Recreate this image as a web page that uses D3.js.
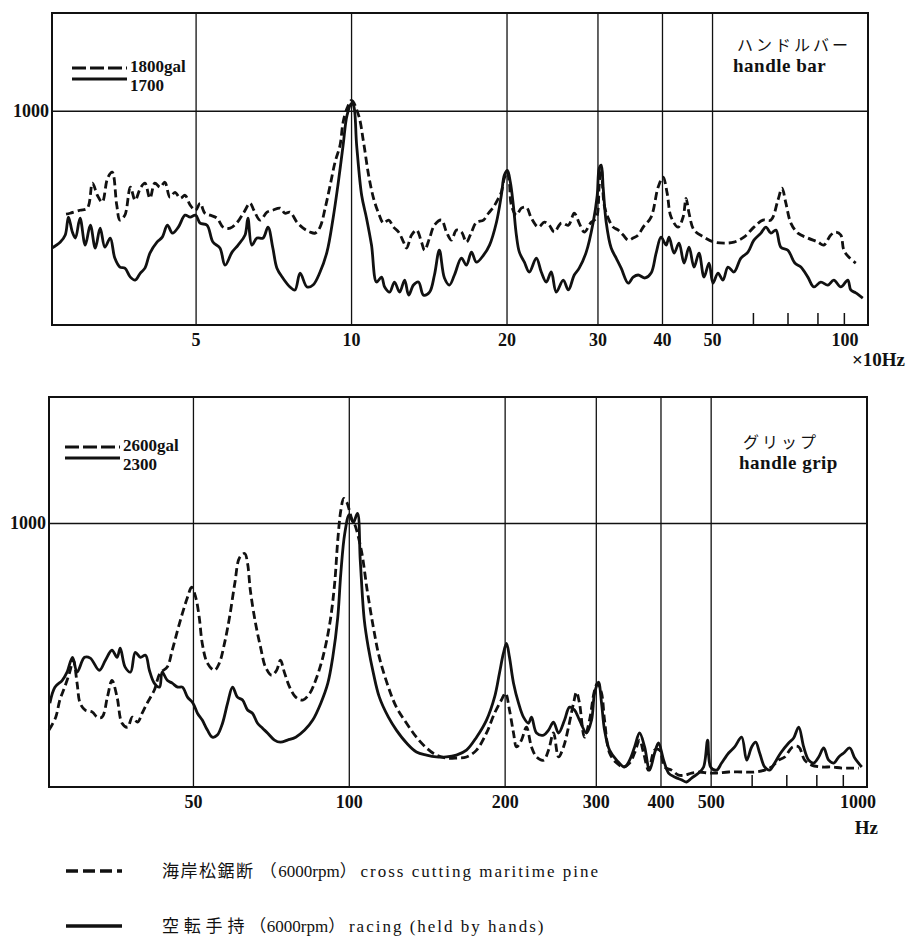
<!DOCTYPE html>
<html>
<head>
<meta charset="utf-8">
<script src="https://cdn.jsdelivr.net/npm/d3@7"></script>
<style>
  body { margin: 0; background: #fff; }
  .num { font-family: "Liberation Serif", "DejaVu Serif", serif; font-weight: bold; font-size: 18px; fill: #111; }
  .jp { font-family: "Noto Sans CJK JP", sans-serif; font-size: 16px; fill: #111; }
</style>
</head>
<body>
<div id="chart"></div>
<script>
// handle bar: frequency in x10 Hz, acceleration in gal
const barCutting = [[2.80,519],[2.85,523],[2.98,537],[3.08,547],[3.15,664],[3.22,607],[3.29,575],[3.37,687],[3.44,715],[3.51,561],[3.56,491],[3.64,514],[3.73,645],[3.81,584],[3.90,640],[3.98,664],[4.07,593],[4.16,664],[4.26,645],[4.35,668],[4.45,598],[4.55,621],[4.66,593],[4.76,607],[4.87,561],[4.99,537],[5.09,570],[5.20,523],[5.32,514],[5.49,500],[5.64,458],[5.82,453],[6.01,481],[6.19,528],[6.36,570],[6.47,537],[6.65,491],[6.86,528],[7.04,537],[7.27,547],[7.43,523],[7.60,528],[7.84,481],[8.06,453],[8.31,435],[8.50,430],[8.69,458],[8.89,547],[9.09,654],[9.29,762],[9.50,841],[9.63,949],[9.80,1014],[10.0,1051],[10.32,981],[10.55,855],[10.79,701],[11.03,593],[11.28,523],[11.53,477],[11.80,491],[12.06,458],[12.33,435],[12.61,388],[12.78,360],[13.07,421],[13.36,444],[13.66,388],[13.85,350],[14.16,407],[14.47,467],[14.93,491],[15.27,435],[15.61,397],[15.96,444],[16.32,435],[16.69,388],[17.07,435],[17.45,481],[18.01,491],[18.41,523],[18.82,551],[19.25,593],[19.50,621],[19.76,687],[20.03,715],[20.21,668],[20.39,561],[20.85,514],[21.32,547],[21.80,551],[22.29,500],[23.00,458],[23.62,481],[24.14,467],[24.69,435],[25.47,477],[26.29,467],[26.99,523],[27.59,477],[28.22,435],[29.11,481],[29.77,500],[30.17,654],[30.44,734],[30.85,561],[31.40,500],[32.11,458],[32.84,444],[33.57,421],[34.33,397],[35.10,407],[35.89,421],[36.70,458],[38.02,505],[39.23,645],[40.10,692],[40.84,617],[41.56,505],[42.89,458],[43.85,505],[44.43,593],[45.03,523],[46.04,444],[48.14,411],[50.33,388],[52.62,383],[55.01,388],[57.51,411],[60.13,458],[62.60,491],[64.86,491],[66.92,584],[68.15,640],[69.34,570],[70.90,477],[73.15,430],[76.48,407],[79.97,388],[82.11,374],[84.72,421],[86.63,435],[88.58,421],[89.78,350],[91.79,318],[94.70,290]];

const barRacing = [[2.63,360],[2.73,388],[2.79,421],[2.83,505],[2.88,435],[2.92,407],[2.98,500],[3.05,374],[3.12,467],[3.19,360],[3.26,453],[3.33,364],[3.41,407],[3.48,313],[3.56,271],[3.64,266],[3.73,224],[3.81,210],[3.90,243],[3.98,266],[4.07,336],[4.20,388],[4.30,411],[4.40,467],[4.50,430],[4.62,458],[4.76,514],[4.87,505],[4.99,514],[5.09,477],[5.25,467],[5.39,388],[5.56,360],[5.69,280],[5.87,341],[6.03,374],[6.22,421],[6.30,500],[6.41,374],[6.56,407],[6.74,407],[6.89,458],[7.04,360],[7.17,266],[7.36,220],[7.60,178],[7.77,164],[7.95,243],[8.20,178],[8.42,187],[8.69,248],[8.96,341],[9.21,500],[9.41,654],[9.63,841],[9.80,981],[10.0,1037],[10.09,1028],[10.23,841],[10.46,607],[10.69,500],[10.93,374],[11.18,201],[11.43,224],[11.59,178],[11.85,154],[12.11,201],[12.39,154],[12.67,210],[12.90,140],[13.18,187],[13.48,201],[13.78,140],[14.16,154],[14.47,234],[14.79,350],[15.13,220],[15.47,187],[15.82,234],[16.32,313],[16.69,280],[17.07,341],[17.45,294],[18.01,327],[18.50,374],[19.08,481],[19.50,607],[19.76,701],[20.03,724],[20.30,668],[20.57,561],[20.85,421],[21.13,341],[21.61,294],[22.09,248],[22.79,313],[23.30,248],[23.83,201],[24.36,248],[24.91,154],[25.70,210],[26.29,164],[26.99,234],[27.59,266],[28.47,341],[29.37,481],[29.90,607],[30.17,734],[30.44,748],[30.71,640],[31.12,481],[31.82,360],[32.54,313],[33.27,266],[34.33,196],[35.10,224],[35.89,234],[37.02,220],[38.02,243],[38.88,336],[39.75,411],[40.65,374],[41.19,411],[42.12,336],[43.06,383],[44.04,290],[45.03,364],[46.04,271],[47.07,336],[48.14,224],[49.22,290],[50.10,196],[51.23,243],[52.38,210],[53.56,271],[55.01,248],[56.75,313],[58.55,341],[60.13,397],[62.04,430],[63.43,458],[64.86,430],[66.32,444],[67.81,364],[69.96,350],[72.17,290],[74.13,271],[76.48,224],[78.55,178],[81.03,201],[83.60,187],[85.86,210],[88.58,178],[91.39,210],[92.61,164],[94.70,150],[97.70,126]];

// handle grip: frequency in Hz, acceleration in gal
const gripCutting = [[26.3,216],[27.1,265],[27.6,330],[28.2,379],[28.8,432],[29.3,481],[29.8,394],[30.2,318],[30.9,292],[31.9,284],[32.6,265],[33.3,265],[34.1,341],[34.8,405],[35.6,341],[36.4,242],[37.3,227],[38.1,265],[39.0,246],[39.8,280],[40.7,318],[42.0,367],[43.1,432],[44.5,455],[45.5,519],[46.6,595],[47.6,659],[48.7,720],[49.6,758],[50.5,720],[51.3,644],[52.0,545],[53.2,470],[54.9,443],[56.1,470],[57.4,545],[58.7,644],[60.1,773],[61.4,871],[62.8,886],[63.6,849],[64.4,746],[65.9,621],[67.4,530],[68.9,455],[70.8,424],[72.4,443],[73.6,481],[75.0,432],[76.7,379],[78.8,341],[81.3,330],[83.9,356],[86.1,405],[88.9,492],[91.7,621],[93.7,773],[95.0,936],[96.3,1049],[97.6,1095],[98.9,1080],[101.4,1011],[102.3,1000],[105.5,898],[108.3,746],[111.3,606],[114.3,492],[119.0,379],[123.3,303],[129.0,242],[134.8,189],[141.0,148],[147.3,121],[154.0,110],[161.0,110],[168.4,114],[176.1,140],[184.1,205],[190.8,280],[196.7,330],[200.3,356],[203.9,292],[207.6,205],[210.4,152],[215.1,178],[219.9,227],[224.9,152],[230.0,114],[237.3,102],[242.6,140],[248.0,205],[253.6,114],[259.3,152],[265.1,227],[271.1,318],[274.7,360],[278.4,318],[284.7,189],[291.1,254],[297.7,367],[301.7,394],[307.1,356],[311.2,254],[318.2,129],[328.4,91],[338.7,76],[347.9,91],[355.7,129],[363.7,178],[370.2,129],[378.6,64],[388.8,140],[397.5,140],[406.5,76],[419.3,64],[432.6,45],[444.3,45],[458.4,53],[475.0,57],[494.4,53],[512.3,53],[540.4,57],[572.6,57],[606.7,57],[634.3,64],[654.4,76],[675.1,102],[693.4,114],[718.5,152],[738.0,152],[758.0,102],[781.4,83],[817.7,76],[854.8,76],[893.7,72],[934.4,72],[964.0,72]];

const gripRacing = [[26.4,318],[27.0,379],[27.9,405],[28.5,436],[29.2,492],[29.8,436],[30.8,492],[31.6,489],[32.9,443],[33.8,481],[34.8,519],[35.6,492],[36.1,527],[36.9,455],[37.8,436],[38.6,511],[39.5,492],[40.4,500],[41.1,443],[42.0,394],[43.0,379],[43.5,436],[44.5,405],[45.5,394],[46.6,379],[47.6,379],[48.7,341],[49.9,318],[50.9,280],[52.0,254],[53.2,216],[54.4,189],[55.6,197],[56.9,242],[58.2,318],[59.5,379],[60.8,341],[62.2,330],[63.6,292],[65.0,280],[66.5,242],[68.0,223],[69.5,205],[71.7,178],[73.6,170],[76.0,178],[78.8,189],[82.0,216],[85.0,254],[88.1,318],[90.9,394],[92.9,492],[95.0,644],[96.3,811],[98.0,962],[100.0,1034],[101.8,1004],[103.7,1038],[105.0,860],[106.9,633],[108.8,530],[111.3,432],[114.3,341],[119.0,265],[123.3,216],[129.0,167],[134.8,133],[141.0,121],[147.3,114],[154.0,114],[161.0,121],[168.4,140],[176.1,189],[184.1,254],[190.8,341],[195.0,432],[198.5,508],[201.2,545],[203.9,492],[207.6,394],[212.3,318],[217.0,265],[221.9,242],[224.9,265],[230.0,205],[237.3,197],[242.6,216],[248.0,246],[253.6,205],[260.5,254],[266.3,303],[272.3,292],[278.4,254],[287.2,205],[293.7,254],[297.7,356],[303.0,398],[307.1,318],[311.2,216],[318.2,140],[328.4,102],[340.2,76],[347.9,102],[355.7,152],[363.7,205],[371.9,152],[380.2,64],[388.8,129],[395.7,167],[404.7,102],[413.7,53],[425.0,38],[438.5,27],[448.3,19],[458.4,34],[472.9,53],[483.5,76],[492.2,178],[498.8,76],[512.3,64],[523.8,91],[540.4,129],[555.1,152],[572.6,189],[585.5,102],[598.7,152],[609.4,170],[620.4,129],[634.3,76],[648.6,64],[663.2,91],[681.1,129],[705.8,167],[721.7,186],[738.0,227],[754.6,152],[771.5,102],[788.9,91],[806.7,114],[824.9,148],[843.4,102],[862.4,91],[881.8,114],[901.7,129],[926.1,148],[947.0,110],[977.0,76]];

const barGrid = [5, 10, 20, 30, 40, 50];
const barMinor = [60, 70, 80, 90];
const barLabels = [5, 10, 20, 30, 40, 50, 100];
const gripGrid = [50, 100, 200, 300, 400, 500];
const gripMinor = [600, 700, 800, 900];
const gripLabels = [50, 100, 200, 300, 400, 500, 1000];

const svg = d3.select("#chart").append("svg")
  .attr("width", 906).attr("height", 949)
  .attr("viewBox", [0, 0, 906, 949]);

function drawPanel(p) {
  const x = d3.scaleLog().domain(p.xDomain).range([p.left, p.right]);
  const y = d3.scaleLinear().domain([0, p.yMax]).range([p.bottom, p.top]);
  const g = svg.append("g");

  // grid lines
  g.selectAll(".vgrid").data(p.grid).enter().append("line")
    .attr("x1", d => x(d)).attr("x2", d => x(d))
    .attr("y1", p.top).attr("y2", p.bottom)
    .attr("stroke", "#111").attr("stroke-width", 1.3);
  g.append("line")
    .attr("x1", p.left).attr("x2", p.right)
    .attr("y1", y(1000)).attr("y2", y(1000))
    .attr("stroke", "#111").attr("stroke-width", 1.6);
  g.selectAll(".minor").data(p.minor).enter().append("line")
    .attr("x1", d => x(d)).attr("x2", d => x(d))
    .attr("y1", p.bottom).attr("y2", p.bottom - 12)
    .attr("stroke", "#111").attr("stroke-width", 1.5);

  // frame
  g.append("rect")
    .attr("x", p.left).attr("y", p.top)
    .attr("width", p.right - p.left).attr("height", p.bottom - p.top)
    .attr("fill", "none").attr("stroke", "#111").attr("stroke-width", 2);

  const line = d3.line()
    .x(d => x(d[0])).y(d => y(d[1]))
    .curve(d3.curveCatmullRom.alpha(0.5));

  g.append("path").datum(p.racing)
    .attr("d", line).attr("fill", "none")
    .attr("stroke", "#111").attr("stroke-width", 2.8)
    .attr("stroke-linejoin", "round");
  g.append("path").datum(p.cutting)
    .attr("d", line).attr("fill", "none")
    .attr("stroke", "#111").attr("stroke-width", 2.8)
    .attr("stroke-dasharray", "8,4");

  // tick labels
  g.selectAll(".tl").data(p.labels).enter().append("text")
    .attr("class", "num")
    .attr("x", d => x(d) + (d === p.labels[p.labels.length - 1] ? p.lastShift : 0))
    .attr("y", p.bottom + 21)
    .attr("text-anchor", "middle")
    .text(d => d);
  g.append("text").attr("class", "num")
    .attr("x", p.left - 3).attr("y", y(1000) + 6)
    .attr("text-anchor", "end").text("1000");
  g.append("text").attr("class", "num").style("font-size", "19px")
    .attr("x", p.unitX).attr("y", p.unitY)
    .attr("text-anchor", "end").text(p.unit);

  // legend in panel
  const lg = p.legend;
  g.append("line").attr("x1", lg.x).attr("x2", lg.x + 55)
    .attr("y1", lg.y).attr("y2", lg.y)
    .attr("stroke", "#111").attr("stroke-width", 3).attr("stroke-dasharray", "14,4");
  g.append("line").attr("x1", lg.x).attr("x2", lg.x + 55)
    .attr("y1", lg.y + 11).attr("y2", lg.y + 11)
    .attr("stroke", "#111").attr("stroke-width", 3);
  g.append("text").attr("class", "num").style("font-size", "17px")
    .attr("x", lg.x + 58).attr("y", lg.y + 4).text(lg.cut);
  g.append("text").attr("class", "num").style("font-size", "17px")
    .attr("x", lg.x + 58).attr("y", lg.y + 23).text(lg.race);

  // part name
  g.append("text").attr("class", "jp")
    .style("letter-spacing", p.nameSpacing)
    .attr("x", p.nameX).attr("y", p.nameY).text(p.nameJp);
  g.append("text").attr("class", "num").style("font-size", "19px")
    .style("letter-spacing", "0.5px")
    .attr("x", p.nameX - 4).attr("y", p.nameY + 21).text(p.nameEn);
}

drawPanel({
  xDomain: [2.63, 100], left: 52, right: 868, top: 13, bottom: 325, yMax: 1460,
  grid: barGrid, minor: barMinor, labels: barLabels, lastShift: -23,
  cutting: barCutting, racing: barRacing,
  unit: "×10Hz", unitX: 905, unitY: 366,
  legend: { x: 72, y: 68, cut: "1800gal", race: "1700" },
  nameJp: "ハンドルバー", nameEn: "handle bar", nameX: 737, nameY: 51, nameSpacing: "3px"
});

drawPanel({
  xDomain: [26.3, 1000], left: 49, right: 867, top: 397, bottom: 787, yMax: 1480,
  grid: gripGrid, minor: gripMinor, labels: gripLabels, lastShift: -9,
  cutting: gripCutting, racing: gripRacing,
  unit: "Hz", unitX: 878, unitY: 834,
  legend: { x: 65, y: 447, cut: "2600gal", race: "2300" },
  nameJp: "グリップ", nameEn: "handle grip", nameX: 743, nameY: 448, nameSpacing: "3px"
});

// series legend at the bottom
const legendRows = [
  { y: 871, dash: "12,5", jp: "海岸松鋸断", en: "cross cutting maritime pine", jpSpacing: "1.5px" },
  { y: 926, dash: null, jp: "空 転 手 持", en: "racing (held by hands)", jpSpacing: "0.5px" }
];
legendRows.forEach(r => {
  svg.append("line").attr("x1", 66).attr("x2", 122)
    .attr("y1", r.y).attr("y2", r.y)
    .attr("stroke", "#111").attr("stroke-width", 3.5)
    .attr("stroke-dasharray", r.dash);
  const t = svg.append("text").attr("x", 162).attr("y", r.y + 6);
  t.append("tspan").attr("class", "jp").style("font-size", "17px")
    .style("letter-spacing", r.jpSpacing).text(r.jp + " （");
  t.append("tspan").attr("class", "num").style("font-weight", "normal").style("font-size", "17px").text("6000rpm");
  t.append("tspan").attr("class", "jp").style("font-size", "17px").text("） ");
  t.append("tspan").attr("class", "num").style("font-weight", "normal").style("font-size", "17px")
    .style("letter-spacing", "2px").text(r.en);
});
</script>
</body>
</html>
